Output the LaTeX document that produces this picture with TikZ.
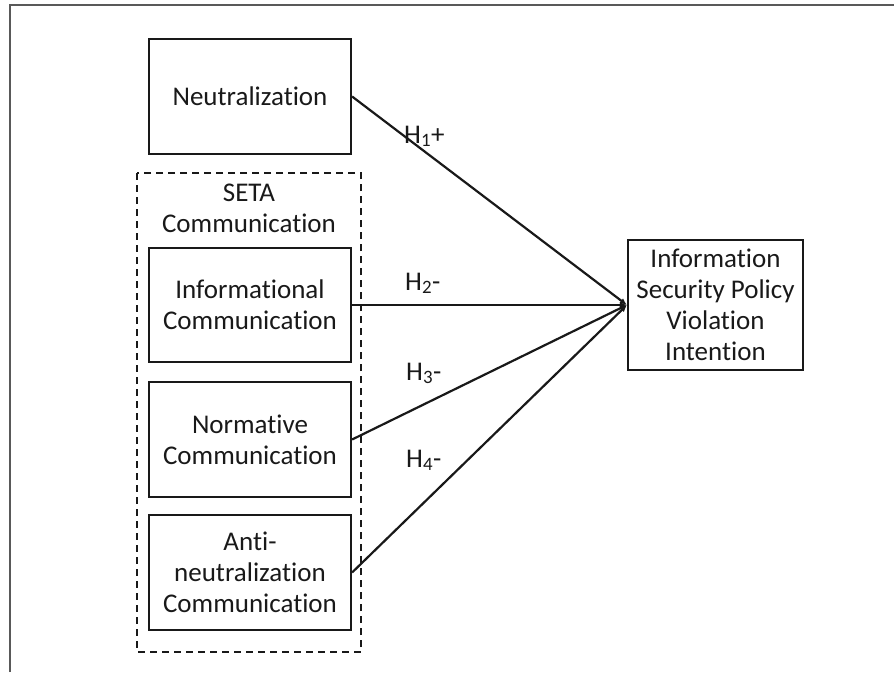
\documentclass[tikz,border=0pt]{standalone}
\usepackage{fontspec}
\setmainfont{Carlito}[Ligatures=NoCommon]
\usetikzlibrary{arrows.meta}
\tikzset{
  box/.style={draw=black!90, line width=2.2pt, align=center, inner sep=0pt,
    font=\fontsize{27}{31}\selectfont, text=black!90},
  grp/.style={draw=black!90, line width=2pt, dash pattern=on 7pt off 5pt},
  link/.style={draw=black!90, line width=2.2pt, -{Latex[length=7pt,width=6pt]}},
  hyp/.style={font=\fontsize{27}{31}\selectfont, text=black!90, inner sep=0pt},
  frame/.style={draw=black!65, line width=2pt}
}
\begin{document}
\begin{tikzpicture}[x=1pt,y=-1pt]
\useasboundingbox (0,0) rectangle (894,672);
\draw[frame] (9.5,672) -- (9.5,5) -- (894,5);
\draw[grp] (137,173) rectangle (361,652);
\node[hyp, align=center] (seta) at (249,208) {SETA\\Communication};
\node[box, minimum width=202pt, minimum height=115pt] (neut) at (250,96.5) {Neutralization};
\node[box, minimum width=202pt, minimum height=114pt] (info) at (250,305) {Informational\\Communication};
\node[box, minimum width=202pt, minimum height=115pt] (norm) at (250,439.5) {Normative\\Communication};
\node[box, minimum width=202pt, minimum height=115pt] (anti) at (250,572.5) {Anti-\\neutralization\\Communication};
\node[box, minimum width=175pt, minimum height=130pt] (isp) at (715.5,305) {Information\\Security Policy\\Violation\\Intention};
\draw[link] (neut.east) -- (isp.west);
\draw[link] (info.east) -- (isp.west);
\draw[link] (norm.east) -- (isp.west);
\draw[link] (anti.east) -- (isp.west);
\node[hyp, anchor=base west] (h1) at (404,143) {H\textsubscript{1}+};
\node[hyp, anchor=base west] (h2) at (405,290) {H\textsubscript{2}-};
\node[hyp, anchor=base west] (h3) at (406,380) {H\textsubscript{3}-};
\node[hyp, anchor=base west] (h4) at (406,467) {H\textsubscript{4}-};
\end{tikzpicture}
\end{document}
